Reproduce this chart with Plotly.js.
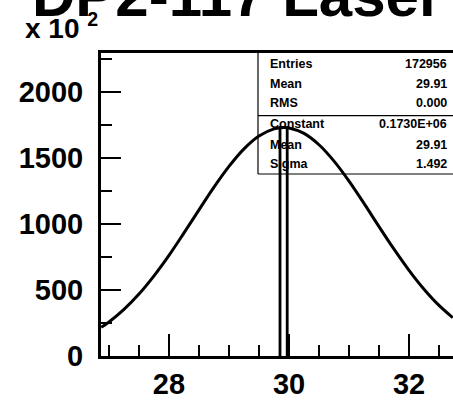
<!DOCTYPE html>
<html>
<head>
<meta charset="utf-8">
<script src="https://cdn.plot.ly/plotly-3.0.1.min.js"></script>
<style>
html,body{margin:0;padding:0;background:#fff;overflow:hidden;}
#chart{width:453px;height:403px;}
</style>
</head>
<body>
<div id="chart"></div>
<script>
// ---- data (y values in units of x10^2 counts) ----
const titleText = "DP2-117 Laser";
const binLow = [29.85];
const binHigh = [29.97];
const binCount = [1729.56];

const fitX = [26.87, 27.0, 27.25, 27.5, 27.75, 28.0, 28.25, 28.5, 28.75, 29.0, 29.25, 29.5, 29.75, 29.91,
              30.0, 30.25, 30.5, 30.75, 31.0, 31.25, 31.5, 31.75, 32.0, 32.25, 32.5, 32.73];
const fitY = [217, 258, 353, 469, 607, 762, 932, 1107, 1279, 1436, 1569, 1666, 1720, 1730,
              1727, 1686, 1600, 1476, 1325, 1156, 980, 809, 649, 506, 383, 290];

const xTickVals = [28, 30, 32];
const xTickText = ["28", "30", "32"];
const yTickVals = [0, 500, 1000, 1500, 2000];
const yTickText = ["0", "500", "1000", "1500", "2000"];

const statLabels = ["Entries", "Mean", "RMS", "Constant", "Mean", "Sigma"];
const statValues = ["172956", "29.91", "0.000", "0.1730E+06", "29.91", "1.492"];

// ---- build histogram outline from bins ----
const hx = [], hy = [];
for (let i = 0; i < binLow.length; i++) {
  hx.push(binLow[i], binLow[i], binHigh[i], binHigh[i]);
  hy.push(0, binCount[i], binCount[i], 0);
}

const FONT = "Liberation Sans, Arial, Helvetica, sans-serif";

const traces = [
  {x: fitX, y: fitY, type: "scatter", mode: "lines", line: {color: "#000", width: 3, shape: "spline"}, hoverinfo: "skip"},
  {x: hx, y: hy, type: "scatter", mode: "lines", line: {color: "#000", width: 2.8}, hoverinfo: "skip"}
];

// stats box geometry (paper coords)
const bx0 = 0.446, bx1 = 1.01, byTop = 1.0, bySep = 0.793, byBot = 0.6007;
const rowY = [0.9637, 0.8993, 0.835, 0.7657, 0.6980, 0.6337];

const annotations = [];
statLabels.forEach((t, i) => {
  annotations.push({xref: "paper", yref: "paper", x: 0.4744, y: rowY[i], xanchor: "left", yanchor: "middle",
    text: "<b>" + t + "</b>", showarrow: false, font: {family: FONT, size: 12.5, color: "#000"}});
  annotations.push({xref: "paper", yref: "paper", x: 0.989, y: rowY[i], xanchor: "right", yanchor: "middle",
    text: "<b>" + statValues[i] + "</b>", showarrow: false, font: {family: FONT, size: 12.5, color: "#000"}});
});
// title
annotations.push({xref: "paper", yref: "paper", x: 0.385, y: 1.073, xanchor: "center", yanchor: "bottom",
  text: "<b>" + titleText + "</b>", showarrow: false, font: {family: FONT, size: 60, color: "#000"}});
// exponent label
annotations.push({xref: "paper", yref: "paper", x: -0.222, y: 1.022, xanchor: "left", yanchor: "bottom",
  text: "<b>x 10 <sup>2</sup></b>", showarrow: false, font: {family: FONT, size: 28, color: "#000"}});

const shapes = [
  {type: "line", xref: "paper", yref: "paper", x0: bx0, x1: bx0, y0: byBot, y1: byTop, line: {color: "#000", width: 1.2}},
  {type: "line", xref: "paper", yref: "paper", x0: bx0, x1: bx1, y0: bySep, y1: bySep, line: {color: "#000", width: 1.2}},
  {type: "line", xref: "paper", yref: "paper", x0: bx0, x1: bx1, y0: byBot, y1: byBot, line: {color: "#000", width: 1.2}}
];

const layout = {
  width: 453, height: 403,
  margin: {l: 101, r: 0, t: 53, b: 47, pad: 0},
  paper_bgcolor: "#fff", plot_bgcolor: "#fff",
  showlegend: false,
  xaxis: {
    range: [26.867, 32.733], showgrid: false, zeroline: false,
    showline: true, linecolor: "#000", linewidth: 3, mirror: true,
    tickmode: "array", tickvals: xTickVals, ticktext: xTickText,
    ticks: "inside", ticklen: 22, tickwidth: 2, tickcolor: "#000",
    minor: {dtick: 0.5, tick0: 0, ticks: "inside", ticklen: 11, tickwidth: 2, tickcolor: "#000", showgrid: false},
    tickfont: {family: FONT, size: 29, color: "#000", weight: "bold"},
    ticklabelstandoff: 0
  },
  yaxis: {
    range: [0, 2295], showgrid: false, zeroline: false,
    showline: true, linecolor: "#000", linewidth: 3,
    tickmode: "array", tickvals: yTickVals, ticktext: yTickText,
    ticks: "inside", ticklen: 20, tickwidth: 2, tickcolor: "#000",
    minor: {dtick: 250, tick0: 0, ticks: "inside", ticklen: 11, tickwidth: 2, tickcolor: "#000", showgrid: false},
    tickfont: {family: FONT, size: 29, color: "#000", weight: "bold"},
    ticklabelstandoff: 9
  },
  annotations: annotations,
  shapes: shapes
};

Plotly.newPlot("chart", traces, layout, {displayModeBar: false, staticPlot: true});
</script>
</body>
</html>
